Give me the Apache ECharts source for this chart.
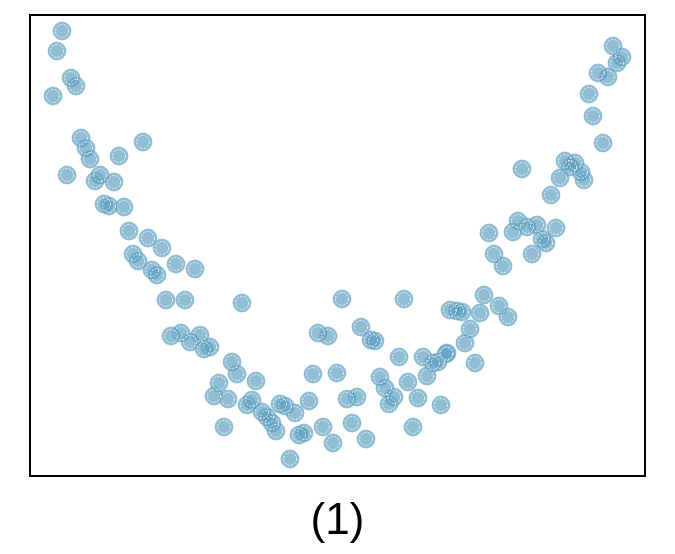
<!DOCTYPE html>
<html>
<head>
<meta charset="utf-8">
<script src="https://cdn.jsdelivr.net/npm/echarts@6/dist/echarts.min.js"></script>
<style>html,body{margin:0;padding:0;background:#fff}#c{width:675px;height:554px}</style>
</head>
<body>
<div id="c"></div>
<script>
// x and y values (arbitrary units)
const xValues = [32,27,41,46,23,51,56,60,113,89,37,70,65,84,74,79,94,99,118,132,103,108,122,127,146,165,136,155,212,141,151,160,170,174,180,202,207,189,184,198,194,
226,222,217,232,237,242,246,250,255,265,279,283,307,317,327,269,274,293,303,322,336,260,312,374,288,298,331,341,345,369,393,403,408,416,397,350,355,364,359,378,388,411,383,
420,427,432,450,454,469,478,440,435,417,445,
459,464,473,483,488,497,507,526,512,516,502,492,521,530,535,540,545,551,554,573,563,559,568,578,583,592,587];
const yValues = [445,425,398,390,380,338,328,317,334,320,301,301,295,294,272,270,269,245,238,228,222,215,206,201,212,207,176,176,173,140,143,134,141,127,129,114,102,93,80,77,49,
95,76,71,64,59,53,45,72,70,63,75,102,103,77,79,41,43,49,33,53,37,17,177,177,143,140,149,136,135,119,119,113,114,122,100,99,88,79,72,94,78,71,49,
166,165,164,163,181,170,159,147,133,123,113,
243,222,210,244,255,249,251,248,237,233,222,307,281,298,315,309,313,304,296,333,360,382,403,399,430,419,413];
const seriesName = 'points';
const titleText = '(1)';

const data = xValues.map((x, i) => [x, yValues[i]]);

const chart = echarts.init(document.getElementById('c'), null, {renderer: 'canvas'});
chart.setOption({
  animation: false,
  backgroundColor: '#ffffff',
  title: {
    text: titleText,
    left: 'center',
    top: 495,
    textStyle: {fontSize: 44, fontWeight: 'normal', color: '#000', fontFamily: "'Liberation Sans', Arial, Helvetica, sans-serif"}
  },
  grid: {left: 30, top: 15, width: 615, height: 461, show: true, borderColor: '#000', borderWidth: 2, backgroundColor: 'transparent'},
  xAxis: {type: 'value', min: 0, max: 615, show: false},
  yAxis: {type: 'value', min: 0, max: 461, show: false},
  series: [
    {
      name: seriesName,
      type: 'scatter',
      data: data,
      symbol: 'circle',
      symbolSize: 18,
      itemStyle: {color: 'rgba(80,150,186,0.78)', borderColor: 'rgba(125,182,210,0.9)', borderWidth: 1},
      z: 2
    },
    {
      name: seriesName + '-ring',
      type: 'scatter',
      data: data,
      symbol: 'circle',
      symbolSize: 13,
      silent: true,
      itemStyle: {color: 'rgba(0,0,0,0)', borderColor: 'rgba(255,255,255,0.95)', borderWidth: 1, borderType: [2, 1.5]},
      z: 3
    }
  ]
});
</script>
</body>
</html>
